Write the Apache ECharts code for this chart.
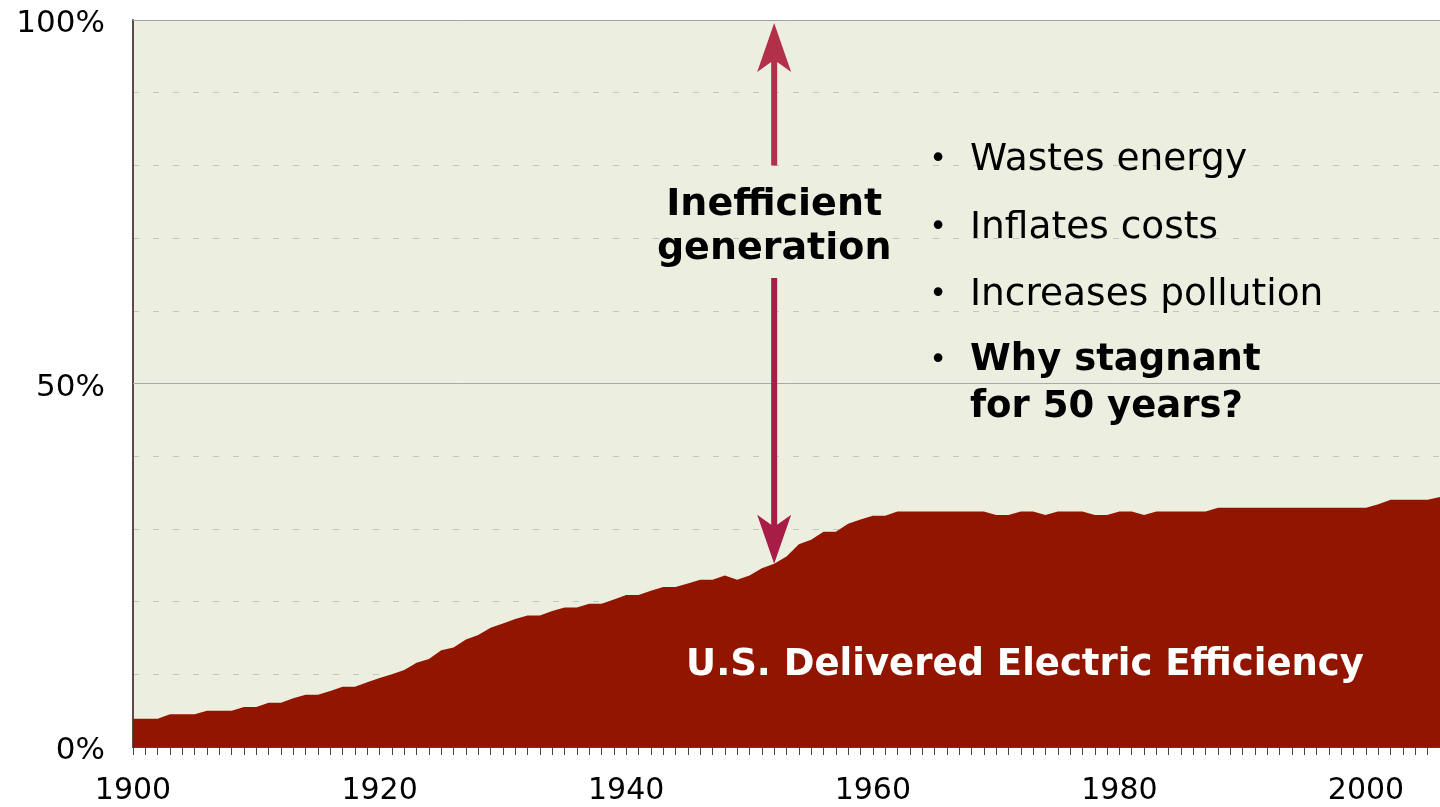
<!DOCTYPE html>
<html>
<head>
<meta charset="utf-8">
<script src="https://cdn.jsdelivr.net/npm/echarts@6/dist/echarts.min.js"></script>
<style>
  html, body { margin: 0; padding: 0; background: #fff; }
  #main { width: 1440px; height: 807px; }
</style>
</head>
<body>
<div id="main"></div>
<script>
// years 1900 .. 2006
const years = [];
for (let y = 1900; y <= 2006; y++) years.push(String(y));

// delivered electric efficiency, %
const efficiency = [
  3.9, 3.9, 3.9, 4.5, 4.5, 4.5, 5.0, 5.0, 5.0, 5.5,      // 1900-1909
  5.5, 6.1, 6.1, 6.7, 7.2, 7.2, 7.7, 8.3, 8.3, 8.9,      // 1910-1919
  9.5, 10.0, 10.6, 11.6, 12.1, 13.3, 13.7, 14.8, 15.4, 16.4, // 1920-1929
  17.0, 17.6, 18.1, 18.1, 18.7, 19.2, 19.2, 19.7, 19.7, 20.3, // 1930-1939
  20.9, 20.9, 21.5, 22.0, 22.0, 22.5, 23.0, 23.0, 23.6, 23.0, // 1940-1949
  23.6, 24.6, 25.2, 26.2, 27.9, 28.5, 29.6, 29.6, 30.7, 31.3, // 1950-1959
  31.8, 31.8, 32.4, 32.4, 32.4, 32.4, 32.4, 32.4, 32.4, 32.4, // 1960-1969
  31.9, 31.9, 32.4, 32.4, 31.9, 32.4, 32.4, 32.4, 31.9, 31.9, // 1970-1979
  32.4, 32.4, 31.9, 32.4, 32.4, 32.4, 32.4, 32.4, 32.9, 32.9, // 1980-1989
  32.9, 32.9, 32.9, 32.9, 32.9, 32.9, 32.9, 32.9, 32.9, 32.9, // 1990-1999
  32.9, 33.4, 34.0, 34.0, 34.0, 34.0, 34.4                   // 2000-2006
];

const yTickLabels = [0, 50, 100];

// double arrow "Inefficient generation" (values in %)
const arrowYear = '1952';
const arrowTop = 99.6;
const arrowGapTop = 80;
const arrowGapBottom = 64.5;
const arrowBottom = 25.2;

const bullets = ['Wastes energy', 'Inflates costs', 'Increases pollution'];
const boldBullet = ['Why stagnant', 'for 50 years?'];

const FONT = '"DejaVu Sans", Verdana, sans-serif';

const myChart = echarts.init(document.getElementById('main'));

const option = {
  animation: false,
  backgroundColor: '#ffffff',
  grid: {
    left: 133, right: 0, top: 20, bottom: 60,
    show: true, backgroundColor: '#ECEFE0', borderWidth: 0
  },
  xAxis: {
    type: 'category',
    data: years,
    boundaryGap: false,
    axisLine: { lineStyle: { color: '#444', width: 2 } },
    axisTick: { interval: 0, length: 8, lineStyle: { color: '#444' } },
    axisLabel: {
      interval: 19, margin: 29,
      fontFamily: FONT, fontSize: 30, color: '#000'
    },
    splitLine: { show: false }
  },
  yAxis: {
    type: 'value',
    min: 0, max: 100, interval: 10,
    axisLine: { show: true, lineStyle: { color: '#5c4a44', width: 2 } },
    axisTick: { show: false },
    axisLabel: {
      margin: 28,
      formatter: v => (yTickLabels.includes(v) ? '{p|' + v + '%}' : ''),
      rich: {
        p: { fontFamily: FONT, fontSize: 31, color: '#000', padding: [8, 0, 0, 0] }
      }
    },
    splitLine: { lineStyle: { color: '#c4c4c4', width: 1, type: [6, 14] } }
  },
  series: [
    {
      type: 'line',
      data: efficiency,
      symbol: 'none',
      lineStyle: { width: 0 },
      areaStyle: { color: '#921500', opacity: 1 },
      z: 2,
      markLine: {
        silent: true,
        symbol: 'none',
        label: { show: false },
        data: [
          { yAxis: 50, lineStyle: { color: '#a8a8a8', width: 1, type: 'solid' } },
          { yAxis: 100, lineStyle: { color: '#a0a0a0', width: 1, type: 'solid' } }
        ]
      }
    }
  ]
};

myChart.setOption(option);

const xi = years.indexOf(arrowYear);
const px = v => myChart.convertToPixel({ gridIndex: 0 }, [xi, v]);
const [ax, yTip1] = px(arrowTop);
const yEnd1 = px(arrowGapTop)[1];
const yEnd2 = px(arrowGapBottom)[1];
const yTip2 = px(arrowBottom)[1];

// arrow polygon: head (len 49, half width 17, notch 38) + shaft (width 6)
function arrow(tipY, endY, color) {
  const d = endY > tipY ? 1 : -1;
  return {
    type: 'polygon', z: 10, silent: true,
    shape: {
      points: [
        [ax, tipY],
        [ax + 17, tipY + d * 49],
        [ax + 3, tipY + d * 39],
        [ax + 3, endY],
        [ax - 3, endY],
        [ax - 3, tipY + d * 39],
        [ax - 17, tipY + d * 49]
      ]
    },
    style: { fill: color }
  };
}

const graphics = [
  arrow(yTip1, yEnd1, '#b3304a'),
  arrow(yTip2, yEnd2, '#a81c48'),
  {
    type: 'text', x: ax, y: 227, z: 10,
    style: {
      text: 'Inefficient\ngeneration', fontFamily: FONT, fontSize: 38, fontWeight: 'bold',
      fill: '#000', align: 'center', verticalAlign: 'middle', lineHeight: 44
    }
  },
  {
    type: 'text', x: 1025, y: 665, z: 10,
    style: {
      text: 'U.S. Delivered Electric Efficiency', fontFamily: FONT, fontSize: 37, fontWeight: 'bold',
      fill: '#fff', align: 'center', verticalAlign: 'middle'
    }
  }
];

const bulletY = [160, 228, 295, 361];
bullets.concat([boldBullet.join('\n')]).forEach((t, i) => {
  const bold = i === bullets.length;
  graphics.push({
    type: 'text', x: 938, y: bulletY[i], z: 10,
    style: { text: '•', fontFamily: FONT, fontSize: 30, fill: '#000', align: 'center', verticalAlign: 'middle' }
  });
  graphics.push({
    type: 'text', x: 970, y: bulletY[i] + (bold ? 23 : 0), z: 10,
    style: {
      text: t, fontFamily: FONT, fontSize: bold ? 37 : 37.5, fontWeight: bold ? 'bold' : 'normal',
      fill: '#000', align: 'left', verticalAlign: 'middle', lineHeight: 47
    }
  });
});

myChart.setOption({ graphic: graphics });
</script>
</body>
</html>
